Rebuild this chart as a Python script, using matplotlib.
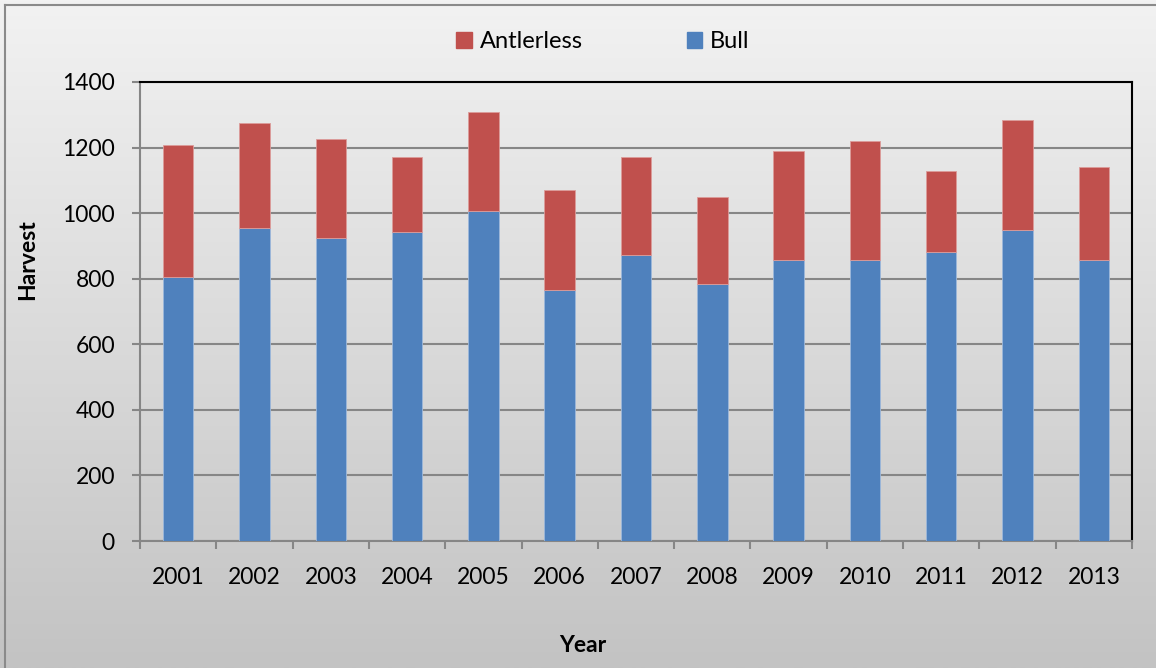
import numpy as np
import matplotlib
matplotlib.use("Agg")
import matplotlib.pyplot as plt
from matplotlib.patches import Patch
from matplotlib.colors import LinearSegmentedColormap

plt.rcParams['font.family'] = ['Lato', 'DejaVu Sans']

# harvest data
years = ['2001', '2002', '2003', '2004', '2005', '2006', '2007',
         '2008', '2009', '2010', '2011', '2012', '2013']
bull = [804, 954, 923, 941, 1006, 765, 871, 784, 856, 856, 880, 948, 857]
total = [1208, 1275, 1225, 1170, 1310, 1072, 1171, 1048, 1191, 1219, 1130, 1283, 1141]
antlerless = [t - b for t, b in zip(total, bull)]

W, H = 1156, 668
fig = plt.figure(figsize=(W / 100, H / 100), dpi=100)

# grey gradient background for the whole chart
bg = fig.add_axes([0, 0, 1, 1])
grad = np.linspace(0, 1, 256).reshape(-1, 1)
cmap = LinearSegmentedColormap.from_list('bg', ['#f2f2f2', '#c3c3c3'])
bg.imshow(grad, aspect='auto', cmap=cmap, extent=[0, 1, 0, 1], origin='upper')
bg.plot([5 / W, 5 / W], [0, 1 - 5 / H], color='#8a8a8a', lw=1.5)
bg.plot([5 / W, 1], [1 - 5 / H, 1 - 5 / H], color='#8a8a8a', lw=1.5)
bg.set_xlim(0, 1)
bg.set_ylim(0, 1)
bg.axis('off')

ax = fig.add_axes([140 / W, (H - 541) / H, 992 / W, 459 / H])
ax.set_facecolor('none')

x = np.arange(len(years))
ax.bar(x, bull, width=0.4, color='#4F81BD', edgecolor='#9db8db', linewidth=0.6, zorder=3)
ax.bar(x, antlerless, width=0.4, bottom=bull, color='#C0504D', edgecolor='#dc9c9a',
       linewidth=0.6, zorder=3)

ax.set_xlim(-0.5, len(years) - 0.5)
ax.set_ylim(0, 1400)
ax.set_yticks(range(0, 1401, 200))
ax.yaxis.grid(True, color='#868686', lw=1.5)
ax.set_axisbelow(True)

# labels at category centres, tick marks between categories
ax.set_xticks(x)
ax.set_xticklabels(years)
ax.set_xticks(np.arange(-0.5, len(years), 1), minor=True)
ax.tick_params(axis='x', which='major', length=0, labelsize=16.5, pad=19)
ax.tick_params(axis='x', which='minor', length=6, width=1.5, color='#868686')
ax.tick_params(axis='y', length=6, width=1.5, color='#868686', labelsize=16.5, pad=12)

for side in ['left', 'bottom']:
    ax.spines[side].set_color('#868686')
    ax.spines[side].set_linewidth(1.5)
for side in ['top', 'right']:
    ax.spines[side].set_color('black')
    ax.spines[side].set_linewidth(1.5)

fig.text(28 / W, 1 - 260 / H, 'Harvest', rotation=90, fontsize=16.5, fontweight='bold',
         ha='center', va='center')
fig.text(583 / W, 1 - 645 / H, 'Year', fontsize=16.5, fontweight='bold',
         ha='center', va='center')

handles = [Patch(color='#C0504D'), Patch(color='#4F81BD')]
fig.legend(handles, ['Antlerless', 'Bull'], loc='center', ncol=2,
           bbox_to_anchor=(603 / W, 1 - 42 / H), frameon=False, fontsize=17,
           handlelength=0.65, handleheight=0.65, handletextpad=0.35, columnspacing=4.4)

fig.savefig('out.png', dpi=100)
